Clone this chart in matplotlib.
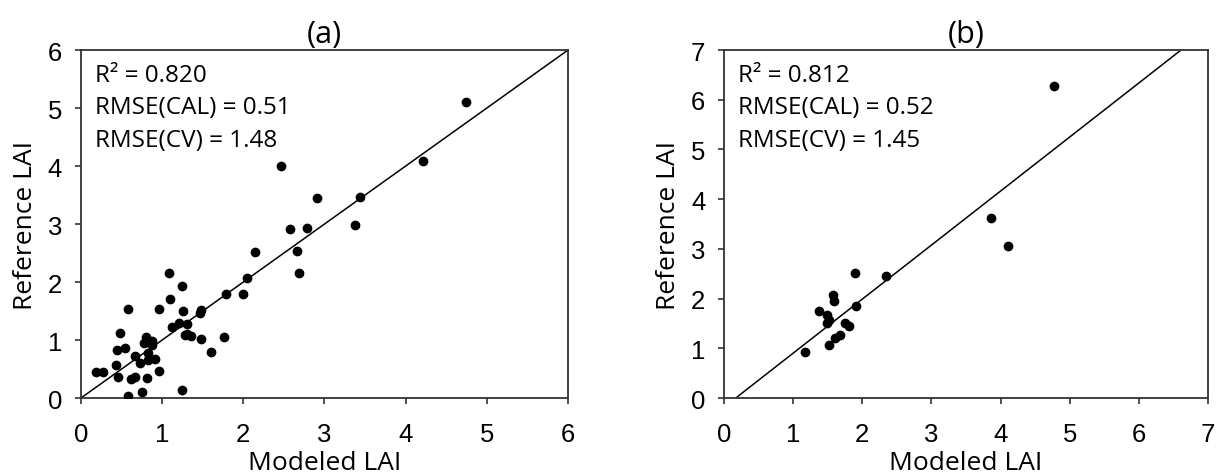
import matplotlib
matplotlib.use("Agg")
import matplotlib.pyplot as plt
import numpy as np

# panel (a) values
modeled_a = [0.19, 0.27, 0.43, 0.45, 0.44, 0.48, 0.54, 0.575, 0.575, 0.62,
             0.66, 0.67, 0.73, 0.75, 0.78, 0.80, 0.81, 0.81, 0.82, 0.83,
             0.84, 0.87, 0.87, 0.91, 0.96, 0.96, 1.08, 1.10, 1.12, 1.21,
             1.24, 1.25, 1.26, 1.28, 1.30, 1.31, 1.35, 1.47, 1.48, 1.48,
             1.60, 1.76, 1.79, 1.99, 2.04, 2.15, 2.46, 2.58, 2.66, 2.68,
             2.79, 2.91, 3.38, 3.44, 4.21, 4.74]
reference_a = [0.44, 0.45, 0.57, 0.36, 0.83, 1.12, 0.86, 1.53, 0.04, 0.33,
               0.37, 0.73, 0.60, 0.10, 0.94, 1.06, 0.99, 0.34, 0.66, 0.77,
               0.68, 0.99, 0.92, 0.67, 1.53, 0.47, 2.15, 1.70, 1.22, 1.29,
               0.13, 1.93, 1.50, 1.09, 1.27, 1.10, 1.07, 1.47, 1.51, 1.02,
               0.79, 1.06, 1.79, 1.79, 2.07, 2.52, 4.00, 2.92, 2.54, 2.15,
               2.93, 3.45, 2.99, 3.47, 4.09, 5.11]

# panel (b)
modeled_b = [1.17, 1.37, 1.49, 1.49, 1.52, 1.52, 1.57, 1.59, 1.60, 1.68,
             1.75, 1.81, 1.90, 1.91, 2.34, 3.86, 4.11, 4.78]
reference_b = [0.93, 1.76, 1.66, 1.51, 1.57, 1.07, 2.07, 1.95, 1.21, 1.27,
               1.51, 1.45, 2.52, 1.86, 2.45, 3.62, 3.06, 6.28]

# line in each panel: slope, intercept
line_a = (1.0, 0.0)
line_b = (1.087, -0.185)

stats_a = ["R\u00b2 = 0.820", "RMSE(CAL) = 0.51", "RMSE(CV) = 1.48"]
stats_b = ["R\u00b2 = 0.812", "RMSE(CAL) = 0.52", "RMSE(CV) = 1.45"]

label_font = "Open Sans"
tick_font = "Liberation Sans"

fig = plt.figure(figsize=(12.16, 4.77), dpi=100)
ax_a = fig.add_axes([0.0666, 0.1635, 0.4005, 0.7295])
ax_b = fig.add_axes([0.5954, 0.1635, 0.3980, 0.7295])


def draw_panel(ax, xs, ys, line, stats, title, lim):
    ax.plot(xs, ys, "o", color="black", markersize=6, zorder=3)
    slope, icpt = line
    lx = np.array([0, lim])
    ax.plot(lx, slope * lx + icpt, color="black", linewidth=1.1)
    ax.set_xlim(0, lim)
    ax.set_ylim(0, lim)
    ax.set_xticks(range(lim + 1))
    ax.set_yticks(range(lim + 1))
    for sp in ax.spines.values():
        sp.set_linewidth(1.3)
        sp.set_color("#333333")
    ax.tick_params(direction="out", length=4, width=1.2,
                   labelsize=18.5, color="#333333")
    ax.tick_params(axis="x", pad=13)
    ax.tick_params(axis="y", pad=9.5)
    for lab in ax.get_xticklabels() + ax.get_yticklabels():
        lab.set_family(tick_font)
    ax.set_xlabel("Modeled LAI", family=label_font, fontsize=19, labelpad=3)
    ax.set_ylabel("Reference LAI", family=label_font, fontsize=19, labelpad=7)
    ax.set_title(title, family=label_font, fontsize=22, pad=6)
    for i, s in enumerate(stats):
        ax.text(0.029, 0.912 - i * 0.094, s, transform=ax.transAxes,
                family=label_font, fontsize=17.5, va="baseline", ha="left")


draw_panel(ax_a, modeled_a, reference_a, line_a, stats_a, "(a)", 6)
draw_panel(ax_b, modeled_b, reference_b, line_b, stats_b, "(b)", 7)

fig.savefig("out.png", dpi=100)
